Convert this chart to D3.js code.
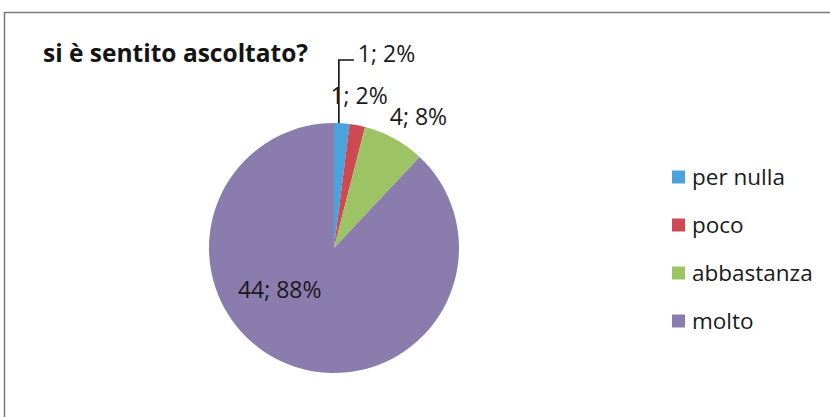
<!DOCTYPE html>
<html><head><meta charset="utf-8">
<script src="https://cdn.jsdelivr.net/npm/d3@7"></script>
<style>body{margin:0;background:#fff} svg{display:block}</style>
</head><body>
<svg id="c" width="830" height="417"></svg>
<script>
// ---- data ----
const title = "si è sentito ascoltato?";
const categories = ["per nulla", "poco", "abbastanza", "molto"];
const counts = [1, 1, 4, 44];
const percents = ["2%", "2%", "8%", "88%"];

// ---- style / layout ----
const W = 830, H = 417;
const palette = ["#4ba3dd", "#cf4953", "#9cc364", "#8a7dae"];
const FONT = "'Open Sans', Lato, sans-serif";
const cx = 334, cy = 248, R = 125;

const svg = d3.select("#c");
svg.append("rect").attr("width", W).attr("height", H).attr("fill", "#fff");
svg.append("path").attr("d", "M4.5,417V12.5H830")
  .attr("fill", "none").attr("stroke", "#7a7a7a").attr("stroke-width", 1.5);

svg.append("text").attr("x", 43).attr("y", 62).text(title)
  .attr("font-family", FONT).attr("font-weight", "bold")
  .attr("font-size", 24.5).attr("fill", "#141414");

const pie = d3.pie().sort(null).value(d => d)(counts);
const arc = d3.arc().innerRadius(0).outerRadius(R);
const g = svg.append("g").attr("transform", `translate(${cx},${cy})`);
g.selectAll("path.slice").data(pie).join("path").attr("class", "slice")
  .attr("d", arc).attr("fill", (d, i) => palette[i]);

const mid = d => (d.startAngle + d.endAngle) / 2;
const polar = (a, r) => [r * Math.sin(a), -r * Math.cos(a)];
const labelText = i => `${counts[i]}; ${percents[i]}`;
const lblStyle = (s, size = 23) => s.attr("font-family", FONT).attr("font-size", size).attr("fill", "#1a1a1a");

// label 0: with leader line
{
  const d = pie[0];
  const [px, py] = polar(mid(d), R);
  const x0 = px - 3, yTop = -R - 63;
  g.append("path").attr("d", `M${x0},${py}V${yTop}H${x0 + 15}`)
    .attr("fill", "none").attr("stroke", "#111").attr("stroke-width", 1.6);
  g.append("text").attr("x", x0 + 19).attr("y", yTop + 2).text(labelText(0)).call(lblStyle);
}
// labels 1 & 2: outside end
const nudges = {1: [-1, -7], 2: [17.5, -1.5]};
[1, 2].forEach(i => {
  const [ax, ay] = polar(mid(pie[i]), R + 14);
  g.append("text").attr("x", ax + nudges[i][0]).attr("y", ay + nudges[i][1])
    .attr("text-anchor", "middle").text(labelText(i)).call(lblStyle);
});
// label 3: inside
{
  const [ax, ay] = polar(mid(pie[3]), R * 0.55);
  g.append("text").attr("x", ax).attr("y", ay).attr("text-anchor", "middle")
    .attr("dx", -29).attr("dy", -13.5).text(labelText(3)).call(lblStyle);
}

// legend
const legY = d3.scalePoint().domain(categories).range([177, 321]);
const leg = svg.append("g").selectAll("g").data(categories).join("g")
  .attr("transform", d => `translate(672,${legY(d)})`);
leg.append("rect").attr("x", 0).attr("y", -6.5).attr("width", 13).attr("height", 13)
  .attr("fill", (d, i) => palette[i]);
leg.append("text").attr("x", 20).attr("y", 8).text(d => d).call(s => lblStyle(s, 22.5));
</script>
</body></html>
